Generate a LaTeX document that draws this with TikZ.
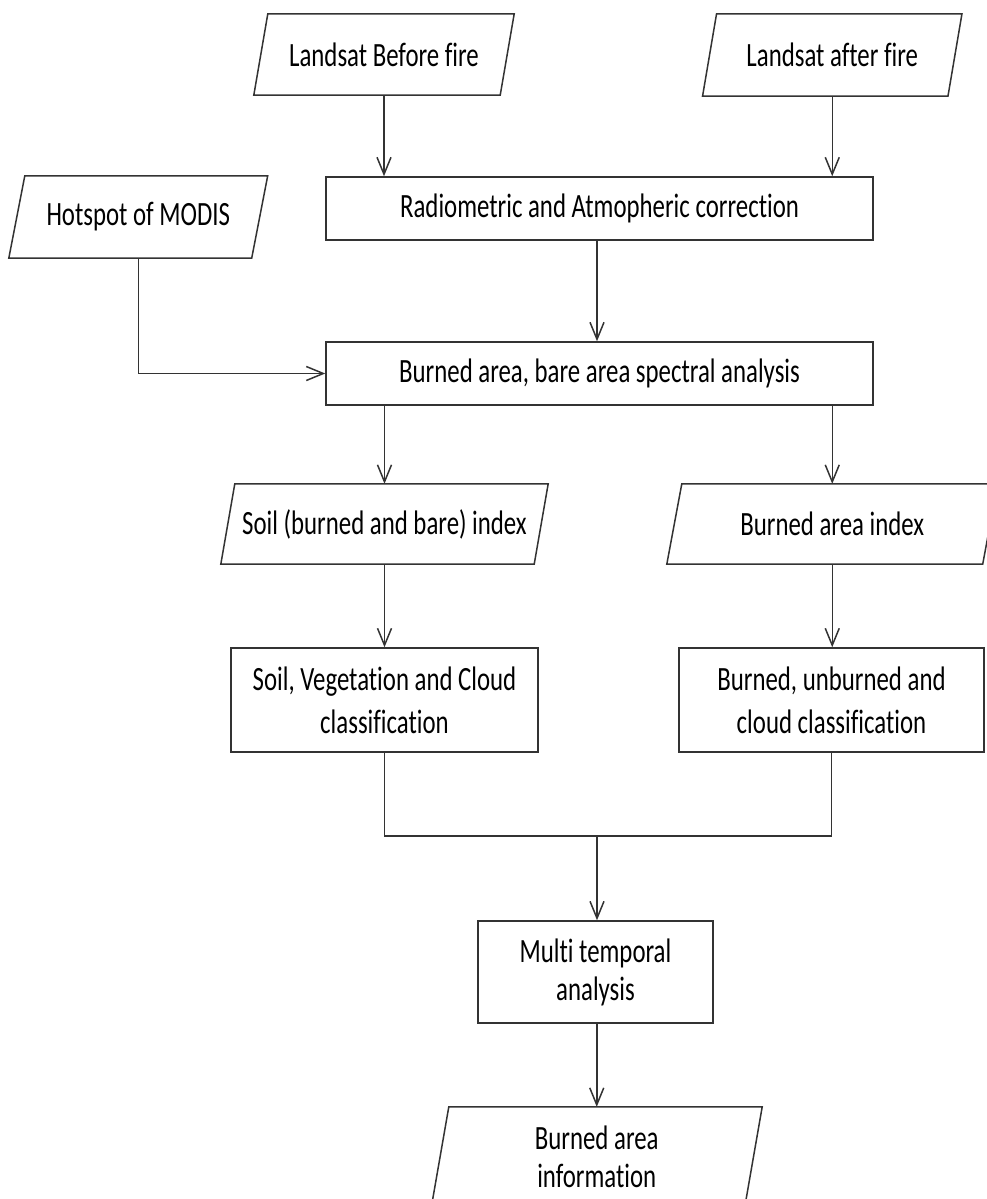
\documentclass[tikz,border=0pt]{standalone}
\usepackage{fontspec}
\setmainfont[FakeStretch=0.73, Ligatures=NoCommon]{Carlito}
\usetikzlibrary{arrows.meta,calc}
\newcommand\paral[2]{\draw[link] ([xshift=#2pt]#1.north west) -- ([xshift=#2pt]#1.north east) -- ([xshift=-#2pt]#1.south east) -- ([xshift=-#2pt]#1.south west) -- cycle;}
\begin{document}
\begin{tikzpicture}[x=1pt,y=-1pt,
  txt/.style={font=\fontsize{34}{40}\selectfont},
  box/.style={txt, draw=black!80, line width=1.5pt, rectangle, inner sep=0pt, align=center},
  io/.style={txt, rectangle, inner sep=0pt, align=center},
  link/.style={draw=black!80, line width=1.5pt},
  arr/.style={link, -{Straight Barb[length=17pt,width=14pt,line width=1.5pt]}}]
\useasboundingbox (0,0) rectangle (986,1199);
\fill[white] (0,0) rectangle (986,1199);
% input / output shapes
\node[io, minimum width=246, minimum height=81] (lb) at (384,54.5) {Landsat Before fire};
\paral{lb}{7}
\node[io, minimum width=245, minimum height=82] (la) at (832.25,55) {Landsat after fire};
\paral{la}{7}
\node[io, minimum width=242.5, minimum height=82] (hs) at (138.25,217) {Hotspot of MODIS};
\paral{hs}{8}
\node[io, minimum width=313, minimum height=80] (si) at (384.5,524) {Soil (burned and bare) index};
\paral{si}{7}
\node[io, minimum width=315.5, minimum height=80] (bi) at (832.25,524) {Burned area index};
\paral{bi}{7.5}
\node[io, minimum width=313, minimum height=100, font=\fontsize{34}{38}\selectfont] (bo) at (596.75,1157) {Burned area\\information};
\paral{bo}{8.75}
% process boxes
\node[box, minimum width=547, minimum height=63] (rad) at (599.5,208.5) {Radiometric and Atmopheric correction};
\node[box, minimum width=547, minimum height=63] (bs) at (599.5,373.5) {Burned area, bare area spectral analysis};
\node[box, minimum width=307, minimum height=104, font=\fontsize{34}{43}\selectfont] (sc) at (384.5,700) {Soil, Vegetation and Cloud\\classification};
\node[box, minimum width=305, minimum height=104, font=\fontsize{34}{43}\selectfont] (bc) at (831.5,700) {Burned, unburned and\\cloud classification};
\node[box, minimum width=235, minimum height=102, font=\fontsize{34}{38}\selectfont] (mt) at (595.5,972) {Multi temporal\\analysis};
\coordinate (j) at (597,836);
% connectors
\draw[arr] (lb.south) -- (lb.south |- rad.north);
\draw[arr] (la.south) -- (la.south |- rad.north);
\draw[arr] ([xshift=-2.5pt]rad.south) -- ([xshift=-2.5pt]bs.north);
\draw[arr] (hs.south) |- (bs.west);
\draw[arr] (si.north |- bs.south) -- (si.north);
\draw[arr] (bi.north |- bs.south) -- (bi.north);
\draw[arr] (si.south) -- (si.south |- sc.north);
\draw[arr] (bi.south) -- (bi.south |- bc.north);
\draw[link] (sc.south) |- (j);
\draw[link] (bc.south) |- (j);
\draw[arr] (j) -- (j |- mt.north);
\draw[arr] (mt.south -| bo.north) -- (bo.north);
\end{tikzpicture}
\end{document}
